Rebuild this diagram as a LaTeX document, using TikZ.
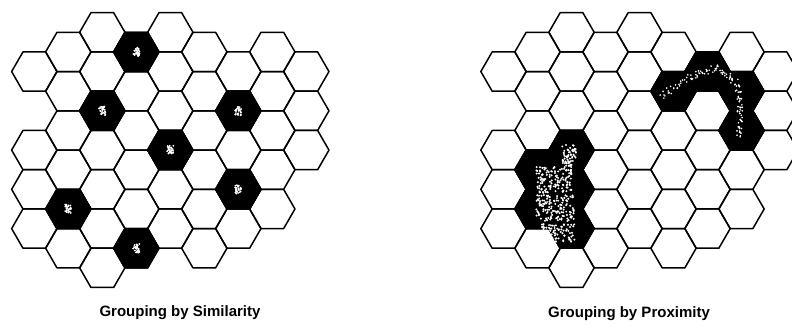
\documentclass[tikz,border=0pt]{standalone}
\usepackage{fontspec}
\setmainfont{Liberation Sans}
\begin{document}
\begin{tikzpicture}[x=1pt,y=-1pt,
  hexline/.style={line width=1.5pt, line join=round, draw=black},
  hexblack/.style={hexline, fill=black},
  speck/.style={fill=white},
  caption/.style={font=\bfseries\fontsize{15}{17}\selectfont, anchor=base, inner sep=0pt}]
\useasboundingbox (0,0) rectangle (792,332);
\clip (0,0) rectangle (792,332);
\fill[white] (0,0) rectangle (792,332);
% white hexagon grids (same layout for both)
\foreach \gx in {34.3,503.5} {
  \foreach \c/\ms in {0/{2,6,8,10},1/{1,3,5,7,9,11},2/{0,2,4,6,8,10,12},3/{1,3,5,7,9,11},4/{0,2,4,6,8,10},5/{1,3,5,7,9,11},6/{2,4,6,8,10},7/{1,3,5,7,9},8/{2,4,6}} {
    \foreach \m in \ms {
      \draw[hexline] ({\gx+34*\c},{32.3+19.63*\m}) +(0:22.67) -- +(60:22.67) -- +(120:22.67) -- +(180:22.67) -- +(240:22.67) -- +(300:22.67) -- cycle;
    }
  }
}
% black cells: left grid (similarity)
\foreach \c/\m in {1/9,2/4,3/1,3/11,4/6,6/4,6/8} {
  \draw[hexblack] ({34.3+34*\c},{32.3+19.63*\m}) +(0:22.67) -- +(60:22.67) -- +(120:22.67) -- +(180:22.67) -- +(240:22.67) -- +(300:22.67) -- cycle;
}
% black cells: right grid (proximity)
\foreach \c/\m in {1/7,1/9,2/6,2/8,2/10,5/3,6/2,7/3,7/5} {
  \draw[hexblack] ({503.5+34*\c},{32.3+19.63*\m}) +(0:22.67) -- +(60:22.67) -- +(120:22.67) -- +(180:22.67) -- +(240:22.67) -- +(300:22.67) -- cycle;
}
% speckles
\pgfmathsetseed{4711}
\foreach \c/\m in {1/9,2/4,3/1,3/11,4/6,6/4,6/8} {
  \foreach \i in {1,...,30} {
    \fill[speck] ({34.3+34*\c+3.2*rand},{32.3+19.63*\m+4.5*rand}) circle (1.0);
  }
}
\foreach \cx/\cy/\sx/\sy/\n in {569/156/7/11/60,554/180/18/13/130,555/208/19/13/130,558/233/17/9/80} {
  \foreach \i in {1,...,\n} {
    \fill[speck] ({\cx+\sx*rand},{\cy+\sy*rand}) circle (1.1);
  }
}
\foreach \ax/\ay/\bx/\by in {660/97/690/77,690/77/717/67,717/67/737/83,737/83/740/110,740/110/738/137} {
  \foreach \t in {0,0.04,...,1} {
    \fill[speck] ({\ax+(\bx-\ax)*\t+3*rand},{\ay+(\by-\ay)*\t+3*rand}) circle (0.9);
  }
}
% captions
\node[caption] (simcap) at (180,316.5) {Grouping by Similarity};
\node[caption] (proxcap) at (629,317.5) {Grouping by Proximity};
\end{tikzpicture}
\end{document}
